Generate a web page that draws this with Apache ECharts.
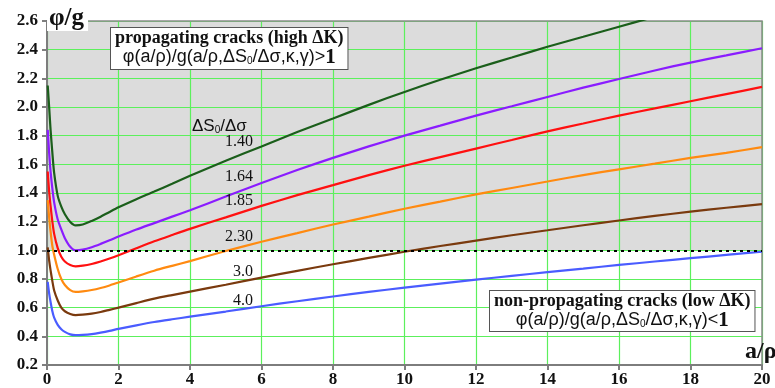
<!DOCTYPE html>
<html><head><meta charset="utf-8">
<script src="https://cdn.jsdelivr.net/npm/echarts@6/dist/echarts.min.js"></script>
<style>html,body{margin:0;padding:0;background:#fff}#c{width:775px;height:388px}</style>
</head><body><div id="c"></div>
<script>
const xs = [0.02,0.06,0.1,0.15,0.2,0.3,0.4,0.5,0.65,0.8,1.0,1.25,1.5,1.75,2,2.5,3,3.5,4,5,6,7,8,9,10,11,12,13,14,15,16,17,18,19,20];
const s140 = [2.15,2.0,1.84,1.68,1.54,1.38,1.305,1.252,1.198,1.174,1.18,1.205,1.235,1.268,1.30,1.357,1.41,1.465,1.52,1.625,1.725,1.825,1.92,2.015,2.105,2.19,2.27,2.345,2.42,2.49,2.56,2.63];
const s164 = [1.84,1.68,1.55,1.43,1.335,1.215,1.146,1.085,1.025,1.0,1.005,1.022,1.045,1.07,1.096,1.145,1.19,1.235,1.28,1.375,1.47,1.56,1.645,1.725,1.80,1.87,1.94,2.005,2.07,2.135,2.195,2.255,2.31,2.36,2.41];
const s185 = [1.55,1.41,1.31,1.20,1.115,1.015,0.955,0.922,0.897,0.888,0.893,0.905,0.922,0.943,0.966,1.015,1.063,1.107,1.15,1.23,1.31,1.385,1.455,1.525,1.59,1.65,1.71,1.77,1.83,1.885,1.94,1.99,2.04,2.09,2.14];
const s230 = [1.35,1.23,1.13,1.03,0.97,0.87,0.80,0.758,0.722,0.71,0.714,0.723,0.737,0.755,0.776,0.818,0.858,0.892,0.925,0.995,1.06,1.12,1.18,1.235,1.29,1.34,1.39,1.435,1.48,1.525,1.565,1.605,1.645,1.68,1.72];
const s300 = [1.02,0.93,0.86,0.785,0.72,0.65,0.60,0.575,0.556,0.548,0.551,0.558,0.57,0.585,0.60,0.632,0.663,0.688,0.712,0.76,0.81,0.857,0.903,0.947,0.99,1.03,1.068,1.105,1.14,1.175,1.208,1.24,1.27,1.297,1.322];
const s400 = [0.78,0.70,0.64,0.575,0.53,0.48,0.45,0.431,0.414,0.408,0.41,0.416,0.426,0.438,0.452,0.477,0.50,0.519,0.537,0.573,0.61,0.645,0.678,0.71,0.74,0.768,0.795,0.822,0.848,0.873,0.898,0.922,0.945,0.968,0.99];
const curveNames = ['1.40','1.64','1.85','2.30','3.0','4.0'];
const curveColors = ['#1b5e1b','#8a1cff','#ff1010','#ff8a10','#7a3a0e','#4a5cff'];
const curveData = [s140,s164,s185,s230,s300,s400];
const threshold = 1.0;

const serif = '"Liberation Serif","Times New Roman",serif';
const sans = '"Liberation Sans",Arial,sans-serif';

const chart = echarts.init(document.getElementById('c'), null, {renderer:'canvas'});
const series = [{
  type:'line', z:0, silent:true, symbol:'none',
  data:[[0,2.6],[20,2.6]],
  lineStyle:{width:0}, areaStyle:{color:'#dcdcdc', origin:threshold, opacity:1}
}];
curveData.forEach((d,i)=>{
  series.push({
    type:'line', name:curveNames[i], z:3, symbol:'none', smooth:0.25, clip:true,
    data:d.map((v,k)=>[xs[k],v]),
    lineStyle:{color:curveColors[i], width:2.2}
  });
});
series.push({
  type:'line', z:4, data:[], symbol:'none',
  markLine:{silent:true, symbol:'none', label:{show:false},
    lineStyle:{color:'#000', type:[3,4], width:2.2},
    data:[{yAxis:threshold}]}
});

const curveLabels = [
  {t:'1.40', y:143},{t:'1.64', y:178},{t:'1.85', y:202},{t:'2.30', y:238},{t:'3.0', y:273},{t:'4.0', y:302}
];
const graphics = curveLabels.map(c=>({type:'text', right:775-253, top:c.y-9, z:10,
  style:{text:c.t, font:'16px '+serif, fill:'#111'}}));
graphics.push({type:'text', left:192, top:118, z:10, style:{
  text:'{s|ΔS}{sub|0}{s|/Δσ}', rich:{s:{font:'17px '+sans, fill:'#111'}, sub:{font:'10px '+sans, fill:'#111', padding:[8,0,0,0]}}}});
graphics.push({type:'text', left:47, top:6, z:10, style:{
  text:'φ/g', font:'bold 25px '+serif, fill:'#111', backgroundColor:'#fff', padding:[0,4,0,2]}});
graphics.push({type:'text', left:745, top:340, z:10, style:{
  text:'a/ρ', font:'bold 24px '+serif, fill:'#111'}});
function boxText(line1, rel){
  return '{b|'+line1+'}\n{s|φ(a/ρ)/g(a/ρ,ΔS}{sub|0}{s|/Δσ,κ,γ)'+rel+'}{one|1}';
}
const boxRich = {
  b:{font:'bold 18px '+serif, fill:'#111', lineHeight:19, align:'center'},
  s:{font:'18px '+sans, fill:'#111', lineHeight:19, align:'center'},
  sub:{font:'10px '+sans, fill:'#111', padding:[8,0,0,0], align:'center'},
  one:{font:'bold 21px '+serif, fill:'#111', lineHeight:19, align:'center'}
};
graphics.push({type:'text', left:110, top:27, z:10, style:{
  text:boxText('propagating cracks (high ΔK)','>'), rich:boxRich, align:'center',
  backgroundColor:'#fff', borderColor:'#555', borderWidth:1, padding:[1,4,2,4]}});
graphics.push({type:'text', left:489, top:290, z:10, style:{
  text:boxText('non-propagating cracks (low ΔK)','<'), rich:boxRich, align:'center',
  backgroundColor:'#fff', borderColor:'#555', borderWidth:1, padding:[1,4,1,4]}});

chart.setOption({
  animation:false,
  backgroundColor:'#fff',
  grid:{left:47, right:13, top:21, bottom:22, show:true, z:2, backgroundColor:'transparent', borderColor:'#8a8a8a', borderWidth:1.5},
  xAxis:{type:'value', min:0, max:20, interval:2, z:1,
    axisLine:{show:true, lineStyle:{color:'#555', width:2}},
    axisTick:{show:true, length:5, lineStyle:{color:'#555', width:1.5}},
    axisLabel:{color:'#111', fontFamily:serif, fontWeight:'bold', fontSize:17, margin:6},
    splitLine:{show:true, lineStyle:{color:'#5cf05c', width:1.2}}},
  yAxis:{type:'value', min:0.2, max:2.6, interval:0.2, z:1,
    axisLine:{show:true, lineStyle:{color:'#555', width:2}},
    axisTick:{show:true, length:5, lineStyle:{color:'#555', width:1.5}},
    axisLabel:{color:'#111', fontFamily:serif, fontWeight:'bold', fontSize:17, margin:9,
      formatter:v=>v.toFixed(1)},
    splitLine:{show:true, lineStyle:{color:'#5cf05c', width:1.2}}},
  series:series,
  graphic:graphics
});
</script></body></html>
